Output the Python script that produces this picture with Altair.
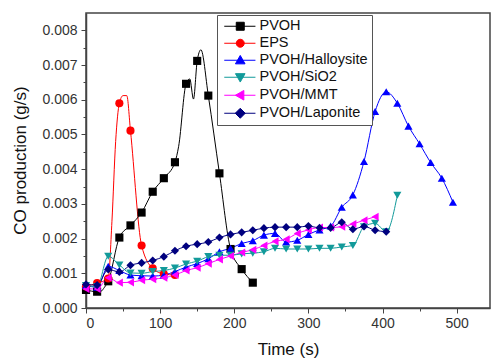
import altair as alt
import pandas as pd

series_names = ["PVOH", "EPS", "PVOH/Halloysite", "PVOH/SiO2", "PVOH/MMT", "PVOH/Laponite"]
colors = ["#000000", "#FF0000", "#0000FF", "#129A9A", "#FF00FF", "#00007F"]
shapes = ["square", "circle", "triangle-up", "triangle-down", "triangle-left", "diamond"]
legend_paths = [
    "M-1,0L6.8,0M2,-1L4,-1L4,1L2,1Z",
    "M-1,0L6.8,0M4,0A1,1,0,1,1,2,0A1,1,0,1,1,4,0Z",
    "M-1,0L6.8,0M3,-1.2L4.2,0.9L1.8,0.9Z",
    "M-1,0L6.8,0M3,1.2L4.2,-0.9L1.8,-0.9Z",
    "M-1,0L6.8,0M1.8,0L3.9,-1.2L3.9,1.2Z",
    "M-1,0L6.8,0M3,-1.25L4.25,0L3,1.25L1.75,0Z",
]

# ---- PVOH (markers + unmarked spline points) ----
pvoh_t = [0, 15, 30, 45, 60, 75, 90, 105, 120, 135, 150, 165, 180, 195, 210, 225]
pvoh_y = [0.00052, 0.00047, 0.00077, 0.00203, 0.00238, 0.00275, 0.00335, 0.00374,
          0.00420, 0.00646, 0.00712, 0.00612, 0.00388, 0.00170, 0.00112, 0.00073]
pvoh_extra_t = [20, 25, 125, 140, 145, 155]
pvoh_extra_y = [0.00048, 0.00060, 0.00466, 0.00660, 0.00602, 0.00744]

# ---- EPS ----
eps_t = [0, 15, 30, 45, 60, 75, 90, 105, 120]
eps_y = [0.00062, 0.00072, 0.00085, 0.00590, 0.00511, 0.00180, 0.00114, 0.00098, 0.00095]
eps_extra_t = [35, 40, 50, 55]
eps_extra_y = [0.00250, 0.00480, 0.00612, 0.00612]

# ---- PVOH/Halloysite ----
hal_t = [0, 15, 30, 45, 60, 75, 90, 105, 120, 135, 150, 165, 180, 195, 210, 225, 240,
         255, 270, 285, 300, 315, 330, 345, 360, 375, 390, 405, 420, 435, 450, 465, 480, 495]
hal_y = [0.00065, 0.00060, 0.00120, 0.00108, 0.00095, 0.00093, 0.00092, 0.00095, 0.00105,
         0.00118, 0.00128, 0.00142, 0.00162, 0.00172, 0.00186, 0.00194, 0.00210, 0.00215,
         0.00190, 0.00195, 0.00212, 0.00225, 0.00236, 0.00290, 0.00326, 0.00422, 0.00566,
         0.00623, 0.00590, 0.00524, 0.00473, 0.00419, 0.00374, 0.00305]

# ---- PVOH/SiO2 ----
sio_t = [0, 15, 30, 45, 60, 75, 90, 105, 120, 135, 150, 165, 180, 195, 210, 225, 240,
         255, 270, 285, 300, 315, 330, 345, 360, 375, 390, 405, 420]
sio_y = [0.00065, 0.00062, 0.00149, 0.00124, 0.00101, 0.00100, 0.00105, 0.00108, 0.00115,
         0.00127, 0.00135, 0.00148, 0.00152, 0.00152, 0.00156, 0.00158, 0.00162, 0.00172,
         0.00170, 0.00170, 0.00170, 0.00172, 0.00172, 0.00176, 0.00180, 0.00234, 0.00244,
         0.00220, 0.00325]

# ---- PVOH/MMT ----
mmt_t = [0, 15, 30, 45, 60, 75, 90, 105, 120, 135, 150, 165, 180, 195, 210, 225, 240,
         255, 270, 285, 300, 315, 330, 345, 360, 375, 390]
mmt_y = [0.00055, 0.00055, 0.00087, 0.00073, 0.00074, 0.00080, 0.00083, 0.00087, 0.00095,
         0.00108, 0.00116, 0.00128, 0.00140, 0.00150, 0.00160, 0.00168, 0.00180, 0.00192,
         0.00198, 0.00215, 0.00225, 0.00232, 0.00232, 0.00234, 0.00242, 0.00253, 0.00263]

# ---- PVOH/Laponite ----
lap_t = [0, 15, 30, 45, 60, 75, 90, 105, 120, 135, 150, 165, 180, 195, 210, 225, 240,
         255, 270, 285, 300, 315, 330, 345, 360, 375, 390, 405]
lap_y = [0.00068, 0.00066, 0.00111, 0.00104, 0.00123, 0.00130, 0.00137, 0.00148, 0.00165,
         0.00178, 0.00184, 0.00190, 0.00203, 0.00212, 0.00218, 0.00224, 0.00230, 0.00233,
         0.00233, 0.00233, 0.00236, 0.00231, 0.00231, 0.00247, 0.00227, 0.00235, 0.00224,
         0.00220]

x_ticks = [0, 50, 100, 150, 200, 250, 300, 350, 400, 450, 500]
y_ticks = [0, 0.0005, 0.001, 0.0015, 0.002, 0.0025, 0.003, 0.0035, 0.004, 0.0045,
           0.005, 0.0055, 0.006, 0.0065, 0.007, 0.0075, 0.008]

marker_sets = [(pvoh_t, pvoh_y), (eps_t, eps_y), (hal_t, hal_y),
               (sio_t, sio_y), (mmt_t, mmt_y), (lap_t, lap_y)]
extra_sets = [(pvoh_extra_t, pvoh_extra_y), (eps_extra_t, eps_extra_y),
              ([], []), ([], []), ([], []), ([], [])]

pts_rows, line_rows = [], []
for name, (ts, ys), (ets, eys) in zip(series_names, marker_sets, extra_sets):
    for t, y in zip(ts, ys):
        pts_rows.append({"series": name, "t": t, "y": y})
        line_rows.append({"series": name, "t": t, "y": y})
    for t, y in zip(ets, eys):
        line_rows.append({"series": name, "t": t, "y": y})
pts_df = pd.DataFrame(pts_rows).reset_index().rename(columns={"index": "idx"})
line_df = pd.DataFrame(line_rows).sort_values(["series", "t"])

FONT = "Liberation Sans"
x_enc = alt.X("t:Q", scale=alt.Scale(domain=[0, 545], nice=False),
              axis=alt.Axis(values=x_ticks, format="d",
                            labelExpr="datum.value % 100 === 0 ? datum.label : ''",
                            tickSize={"condition": {"test": "datum.value % 100 === 0", "value": 5}, "value": 3},
                            title="Time (s)", titleY=46, titleBaseline="alphabetic",
                            labelPadding=3))
y_enc = alt.Y("y:Q", scale=alt.Scale(domain=[0, 0.0085], nice=False),
              axis=alt.Axis(values=y_ticks,
                            labelExpr="round(datum.value*10000) % 10 === 0 ? format(datum.value, '.3f') : ''",
                            tickSize={"condition": {"test": "round(datum.value*10000) % 10 === 0", "value": 5}, "value": 3},
                            title="CO production (g/s)", titleX=-66, titleY=147,
                            titleAlign="center", titleBaseline="middle", labelPadding=4))
color_enc = alt.Color("series:N", scale=alt.Scale(domain=series_names, range=colors), legend=None)

lines = alt.Chart(line_df).mark_line(strokeWidth=1, interpolate="monotone").encode(
    x=x_enc, y=y_enc, color=color_enc, detail="series:N")

points = alt.Chart(pts_df).mark_point(filled=True, opacity=1, size=66).encode(
    x=x_enc, y=y_enc, color=color_enc,
    shape=alt.Shape("series:N", scale=alt.Scale(domain=series_names, range=shapes), legend=None),
    order=alt.Order("idx:Q"))

legend_props = dict(orient="none", legendX=131, legendY=2, title=None,
                    strokeColor="#555555", fillColor="white", padding=4,
                    labelFont=FONT, labelFontSize=14.5, labelColor="#111111",
                    symbolSize=64, symbolStrokeWidth=1, labelOffset=24, rowPadding=2)
legend_df = pd.DataFrame({"series": series_names})
legend_layer = alt.Chart(legend_df).transform_filter("false").mark_point(filled=True, opacity=1).encode(
    shape=alt.Shape("series:N", scale=alt.Scale(domain=series_names, range=legend_paths),
                    legend=alt.Legend(**legend_props)),
    fill=alt.Fill("series:N", scale=alt.Scale(domain=series_names, range=colors),
                  legend=alt.Legend(**legend_props)),
    stroke=alt.Stroke("series:N", scale=alt.Scale(domain=series_names, range=colors),
                      legend=alt.Legend(**legend_props)),
)

chart = alt.layer(lines, points, legend_layer).resolve_scale(
    shape="independent", fill="independent", stroke="independent"
).properties(
    width=404, height=295,
    padding={"left": 86, "top": 13, "right": 1, "bottom": 51},
    autosize=alt.AutoSizeParams(type="none"),
).configure_view(
    stroke="#444444", strokeWidth=1.5
).configure_axis(
    grid=False, domainColor="#444444", domainWidth=1.5, tickColor="#444444", tickWidth=1,
    labelFont=FONT, labelFontSize=14, labelColor="#333333",
    titleFont=FONT, titleFontSize=17, titleFontWeight="normal", titleColor="#111111",
)

chart.save("out.html", embed_options={"renderer": "svg", "actions": False})
